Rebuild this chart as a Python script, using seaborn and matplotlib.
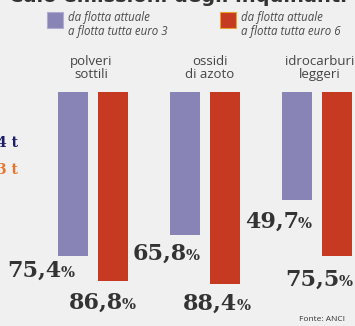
import matplotlib
matplotlib.use("Agg")
import matplotlib.pyplot as plt
import seaborn as sns
import pandas as pd

# ---- data ----
categories = ["polveri\nsottili", "ossidi\ndi azoto", "idrocarburi\nleggeri"]
series = ["da flotta attuale\na flotta tutta euro 3", "da flotta attuale\na flotta tutta euro 6"]
euro3 = [75.4, 65.8, 49.7]
euro6 = [86.8, 88.4, 75.5]
label_fmt = lambda v: f"{v:.1f}".replace(".", ",")

# ---- style ----
BG = "#f0f0f0"
C3 = "#8884b6"
C6 = "#c63a21"
W, H = 355, 326
PX_PER_UNIT = 2.175
TOP_PX = 92
GROUP0_PX = 93
GROUP_STEP_PX = 112

sns.set_theme(style="white")
plt.rcParams["font.family"] = ["DejaVu Sans"]

fig = plt.figure(figsize=(W / 100, H / 100), dpi=100, facecolor=BG)
ax_h = (H - TOP_PX) / H
ax = fig.add_axes([0, 0, 1, ax_h])
ax.set_facecolor(BG)

df = pd.DataFrame({
    "cat": categories * 2,
    "serie": [series[0]] * 3 + [series[1]] * 3,
    "val": euro3 + euro6,
})
sns.barplot(data=df, x="cat", y="val", hue="serie", palette=[C3, C6],
            width=0.732, gap=0.268, ax=ax, legend=False, saturation=1,
            edgecolor="none")

ax.set_xlim(-GROUP0_PX / GROUP_STEP_PX, (W - GROUP0_PX) / GROUP_STEP_PX)
ax.set_ylim((H - TOP_PX) / PX_PER_UNIT, 0)
ax.axis("off")

# value labels: offsets in pixels (right edge relative to bar centre, baseline below bar end)
offsets3 = [(2, -21), (15, -25), (15.5, -28)]
offsets6 = [(22.5, -28), (25, -26), (15.5, -30)]
for cont, vals, offs in zip(ax.containers, [euro3, euro6], [offsets3, offsets6]):
    for rect, v, (dx, dy) in zip(cont, vals, offs):
        xc = rect.get_x() + rect.get_width() / 2
        ax.annotate("%", xy=(xc, v), xytext=(dx, dy), textcoords="offset pixels",
                    ha="right", va="baseline", fontsize=10.5, fontweight="bold",
                    family="DejaVu Serif", color="#333333")
        ax.annotate(label_fmt(v), xy=(xc, v), xytext=(dx - 13, dy), textcoords="offset pixels",
                    ha="right", va="baseline", fontsize=16, fontweight="bold",
                    family="DejaVu Serif", color="#333333")

# category labels
cat_dx = [-2, 5, 3]
for i, (c, dx) in enumerate(zip(categories, cat_dx)):
    ax.annotate(c, xy=(i, 0), xytext=(dx, 11), textcoords="offset pixels",
                ha="center", va="bottom", fontsize=9.5, family="Open Sans",
                color="#444444", linespacing=1.0)

# legend
def fx(px):
    return px / W
def fy(py):
    return 1 - py / H

for sx, col, ec, txt in [(47, C3, "#b0acd0", series[0]), (220, C6, "#e8a030", series[1])]:
    fig.patches.append(matplotlib.patches.Rectangle((fx(sx), fy(28)), 16 / W, 16 / H,
                       transform=fig.transFigure, facecolor=col, edgecolor=ec, lw=0.8))
    fig.text(fx(sx + 21), fy(11), txt, ha="left", va="top", fontsize=8.3,
             style="italic", family="Open Sans", color="#4a4a4a", linespacing=1.05)

# cropped title at top
fig.text(0.5, fy(2.5), "Calo emissioni degli inquinanti", ha="center", va="baseline",
         fontsize=14, fontweight="bold", color="#333333")

# cropped left-side values
fig.text(fx(18), fy(147), "4 t", ha="right", va="baseline", fontsize=10,
         fontweight="bold", family="DejaVu Serif", color="#1c1c6a")
fig.text(fx(18), fy(174), "3 t", ha="right", va="baseline", fontsize=10,
         fontweight="bold", family="DejaVu Serif", color="#e8742a")

# source
fig.text(fx(299), fy(321), "Fonte: ANCI", ha="left", va="baseline", fontsize=6,
         family="Open Sans", color="#333333")

fig.savefig("out.png", dpi=100, facecolor=BG)
